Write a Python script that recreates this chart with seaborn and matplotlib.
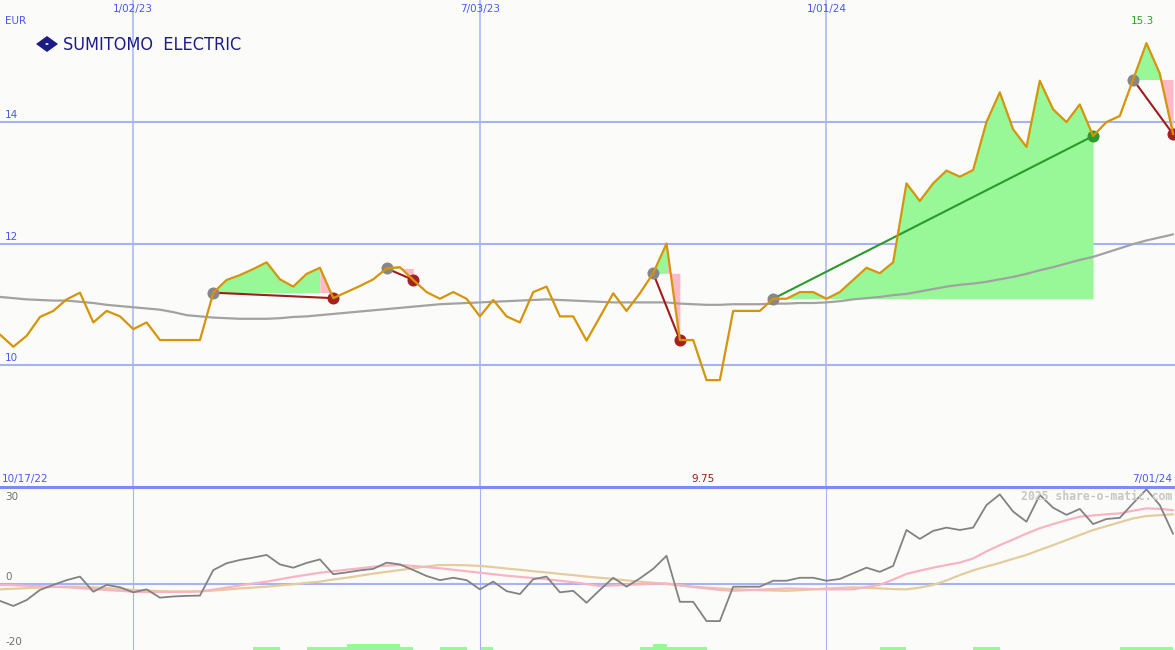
import numpy as np
import pandas as pd
import matplotlib
matplotlib.use("Agg")
import matplotlib.pyplot as plt
import matplotlib.transforms as mtransforms
from matplotlib.patches import Polygon, Circle
import seaborn as sns

# ---------------- data ----------------
start_date = "2022-10-24"

price = [10.50, 10.30, 10.48, 10.79, 10.89, 11.08, 11.19, 10.70, 10.89, 10.80,
         10.59, 10.70, 10.41, 10.41, 10.41, 10.41, 11.19, 11.40, 11.48, 11.58,
         11.69, 11.41, 11.29, 11.50, 11.60, 11.10, 11.20, 11.30, 11.41, 11.59,
         11.61, 11.40, 11.20, 11.09, 11.20, 11.09, 10.80, 11.07, 10.80, 10.70,
         11.20, 11.29, 10.80, 10.80, 10.40, 10.79, 11.18, 10.89, 11.18, 11.51,
         12.00, 10.41, 10.41, 9.75, 9.75, 10.89, 10.89, 10.89, 11.09, 11.09,
         11.20, 11.20, 11.09, 11.20, 11.40, 11.60, 11.51, 11.69, 12.99, 12.70,
         12.99, 13.20, 13.10, 13.21, 14.00, 14.49, 13.88, 13.59, 14.68, 14.21,
         14.00, 14.29, 13.77, 14.00, 14.10, 14.70, 15.30, 14.80, 13.80]

ma_long = [11.12, 11.10, 11.08, 11.07, 11.06, 11.06, 11.04, 11.02, 10.99, 10.97,
           10.95, 10.93, 10.91, 10.87, 10.82, 10.80, 10.78, 10.77, 10.76, 10.76,
           10.76, 10.77, 10.79, 10.80, 10.82, 10.84, 10.86, 10.88, 10.90, 10.92,
           10.94, 10.96, 10.98, 11.00, 11.01, 11.02, 11.03, 11.04, 11.05, 11.06,
           11.07, 11.08, 11.07, 11.06, 11.05, 11.04, 11.03, 11.03, 11.03, 11.03,
           11.03, 11.01, 11.00, 10.99, 10.99, 11.00, 11.00, 11.00, 11.01, 11.01,
           11.02, 11.02, 11.03, 11.05, 11.08, 11.10, 11.12, 11.15, 11.17, 11.21,
           11.25, 11.29, 11.32, 11.34, 11.37, 11.41, 11.45, 11.50, 11.56, 11.61,
           11.67, 11.73, 11.78, 11.85, 11.92, 11.99, 12.05, 12.10, 12.15]

momentum = [-5.7, -7.4, -5.4, -2.0, -0.3, 1.3, 2.5, -2.6, -0.3, -1.1,
            -2.8, -1.8, -4.6, -4.2, -4.0, -3.9, 4.7, 7.0, 8.1, 8.9,
            9.8, 6.6, 5.5, 7.1, 8.3, 3.3, 3.9, 4.6, 5.1, 7.2,
            6.6, 4.7, 2.7, 1.3, 2.1, 1.3, -1.8, 0.8, -2.4, -3.4,
            1.6, 2.5, -2.8, -2.3, -6.3, -2.0, 2.1, -0.9, 1.9, 5.1,
            9.5, -6.0, -6.0, -12.5, -12.5, -0.9, -0.9, -0.9, 1.1, 1.1,
            2.1, 2.1, 1.1, 1.7, 3.6, 5.5, 4.1, 6.1, 18.2, 15.2,
            17.9, 19.0, 18.2, 19.0, 26.6, 30.2, 24.4, 21.0, 30.0, 25.7,
            23.3, 25.3, 20.2, 21.9, 22.3, 27.2, 31.9, 26.6, 16.9]

signal_fast = [-0.3, -0.4, -0.6, -0.7, -0.9, -1.1, -1.4, -1.7, -2.0, -2.3,
               -2.6, -2.7, -2.7, -2.7, -2.6, -2.5, -1.9, -1.2, -0.5, 0.2,
               0.8, 1.6, 2.4, 3.1, 3.8, 4.3, 4.8, 5.3, 5.8, 6.2,
               6.4, 6.1, 5.7, 5.3, 4.8, 4.3, 3.8, 3.3, 2.8, 2.4,
               2.0, 1.6, 1.1, 0.6, 0.0, -0.7, -0.5, -0.3, -0.1, 0.1,
               0.2, -0.4, -1.0, -1.5, -2.0, -2.3, -2.1, -1.9, -1.7, -1.5,
               -1.6, -1.7, -1.8, -1.8, -1.8, -1.0, -0.3, 1.5, 3.4, 4.5,
               5.5, 6.4, 7.2, 8.6, 11.0, 13.1, 15.0, 17.0, 18.8, 20.2,
               21.5, 22.7, 23.1, 23.5, 23.8, 24.7, 25.5, 25.3, 24.9]

signal_slow = [-1.8, -1.6, -1.4, -1.2, -1.0, -0.9, -0.9, -1.1, -1.4, -1.7,
               -2.0, -2.2, -2.4, -2.5, -2.6, -2.5, -2.2, -1.9, -1.5, -1.2,
               -0.9, -0.5, -0.1, 0.4, 0.8, 1.5, 2.1, 2.8, 3.5, 4.1,
               4.7, 5.3, 5.9, 6.4, 6.4, 6.3, 6.1, 5.7, 5.2, 4.8,
               4.3, 3.9, 3.4, 3.0, 2.5, 2.1, 1.7, 1.2, 0.8, 0.4,
               0.0, -0.5, -0.9, -1.2, -1.5, -1.7, -1.9, -2.1, -2.2, -2.3,
               -2.1, -1.8, -1.5, -1.3, -1.1, -1.3, -1.5, -1.7, -1.8, -1.2,
               -0.3, 1.2, 3.0, 4.6, 5.9, 7.1, 8.5, 9.8, 11.5, 13.1,
               14.8, 16.5, 18.2, 19.5, 20.8, 22.1, 22.9, 23.2, 23.5]

volume_flag = [0] * 19 + [1, 1, 0, 0, 1, 1, 1, 2, 2, 2, 2, 1, 0, 0, 1, 1, 0, 1] + \
              [0] * 11 + [1, 2, 1, 1, 1] + [0] * 13 + [1, 1] + [0] * 5 + [1, 1] + \
              [0] * 9 + [1, 1, 1, 1, 0]

trade_entry = [16, 29, 49, 58, 85]
trade_exit = [25, 31, 51, 82, 88]

price_ticks = [10, 12, 14]
date_lines = ["2023-01-02", "2023-07-03", "2024-01-01"]
date_labels = ["1/02/23", "7/03/23", "1/01/24"]
osc_labels = [(30, "30"), (0, "0"), (-20, "-20")]

# ---------------- figure ----------------
sns.set_theme(style="white")
plt.rcParams['font.family'] = ['DejaVu Sans']

bg = '#fbfcfa'
grid_c = '#a6b2f4'
label_c = '#4a58ee'
W, H = 1175, 650

dates = pd.date_range(start_date, periods=len(price), freq='7D')
df = pd.DataFrame({'date': dates, 'price': price, 'ma': ma_long,
                   'mom': momentum, 'fast': signal_fast, 'slow': signal_slow,
                   'vol': volume_flag})

fig = plt.figure(figsize=(W / 100, H / 100), dpi=100, facecolor=bg)
ax = fig.add_axes([0, 163 / H, 1, 487 / H])
ax2 = fig.add_axes([0, 0, 1, 163 / H])

for a in (ax, ax2):
    a.set_facecolor(bg)
    for s in a.spines.values():
        s.set_visible(False)

xmin, xmax = dates[0], dates[-1] + pd.Timedelta(days=1)

# ---------- top panel ----------
for y in price_ticks:
    ax.axhline(y, color=grid_c, lw=1.5, zorder=1)
for d in date_lines:
    ax.axvline(pd.Timestamp(d), color=grid_c, lw=1.1, zorder=1)

for e, x in zip(trade_entry, trade_exit):
    pe, px = price[e], price[x]
    profit = px > pe
    end = x + 1 if profit else x
    ax.fill_between(dates[e:end], price[e:end], pe, color='#98f898', lw=0, zorder=2)
    if not profit:
        ax.fill_between(dates[x - 1:x + 1], price[x - 1:x + 1], pe,
                        color='#ffb8c8', lw=0, zorder=2)

sns.lineplot(data=df, x='date', y='ma', ax=ax, color='#a2a2a2', lw=1.6, zorder=3)

for e, x in zip(trade_entry, trade_exit):
    pe, px = price[e], price[x]
    profit = px > pe
    lc = '#2a9a2a' if profit else '#a01c1c'
    ax.plot([dates[e], dates[x]], [pe, px], color=lc, lw=1.5, zorder=3.5)
    ax.scatter([dates[e]], [pe], s=75, color='#878787', zorder=4, lw=0)
    ax.scatter([dates[x]], [px], s=75, color=('#2a9a2a' if profit else '#a52020'),
               zorder=4, lw=0)

sns.lineplot(data=df, x='date', y='price', ax=ax, color='#d6940a', lw=1.6, zorder=5)

ax.set_xlim(xmin, xmax)
ax.set_ylim(7.99, 16.01)
ax.set_xticks([]); ax.set_yticks([])
ax.set_xlabel(''); ax.set_ylabel('')

tb = mtransforms.blended_transform_factory(ax.transAxes, ax.transData)
fs = 7.5
for y in price_ticks:
    ax.text(5 / W, y + 0.03, str(y), transform=tb, ha='left', va='bottom',
            fontsize=fs, color=label_c)
ax.text(5 / W, 1 - 21 / 487, 'EUR', transform=ax.transAxes, ha='left', va='center',
        fontsize=fs, color=label_c)
tx = mtransforms.blended_transform_factory(ax.transData, ax.transAxes)
for d, lab in zip(date_lines, date_labels):
    ax.text(pd.Timestamp(d), 1 - 9 / 487, lab, transform=tx, ha='center', va='center',
            fontsize=fs, color=label_c)
ax.text(1142 / W, 1 - 21 / 487, f"{max(price):.1f}", transform=ax.transAxes,
        ha='center', va='center', fontsize=fs, color='#2e9e2e')
ax.text(2 / W, 8 / 487, '10/17/22', transform=ax.transAxes, ha='left', va='center',
        fontsize=fs, color=label_c)
ax.text(703 / W, 8 / 487, f"{min(price):.2f}", transform=ax.transAxes, ha='center',
        va='center', fontsize=fs, color='#a01818')
ax.text(1172 / W, 8 / 487, '7/01/24', transform=ax.transAxes, ha='right', va='center',
        fontsize=fs, color=label_c)

# logo
fig.text(63 / W, 1 - 44.5 / H, 'SUMITOMO  ELECTRIC', ha='left', va='center',
         fontsize=13, color='#1c1c84', family='DejaVu Sans', fontstretch='condensed')
cx, cy = 47, 44
pts = [((cx - 11) / W, 1 - cy / H), (cx / W, 1 - (cy - 8) / H),
       ((cx + 11) / W, 1 - cy / H), (cx / W, 1 - (cy + 8) / H)]
fig.add_artist(Polygon(pts, closed=True, transform=fig.transFigure,
                       facecolor='#1c1c84', edgecolor='none'))
fig.add_artist(Circle((cx / W, 1 - cy / H), 1.6 / W, transform=fig.transFigure,
                      facecolor='white', edgecolor='none'))

# ---------- bottom panel ----------
ylo, yhi = -22.24, 32.69
ax2.bar(dates, [v * 1.05 for v in volume_flag], width=7, align='edge', bottom=ylo,
        color='#98f898', lw=0, zorder=1)
ax2.axhline(0, color=grid_c, lw=1.5, zorder=1)
for d in date_lines:
    ax2.axvline(pd.Timestamp(d), color=grid_c, lw=0.8, zorder=1)
sns.lineplot(data=df, x='date', y='slow', ax=ax2, color='#e4cc9e', lw=1.6, zorder=2)
sns.lineplot(data=df, x='date', y='fast', ax=ax2, color='#f8b4c4', lw=1.6, zorder=2.5)
sns.lineplot(data=df, x='date', y='mom', ax=ax2, color='#828282', lw=1.3, zorder=3)
ax2.set_xlim(xmin, xmax)
ax2.set_ylim(ylo, yhi)
ax2.set_xticks([]); ax2.set_yticks([])
ax2.set_xlabel(''); ax2.set_ylabel('')
ax2.spines['top'].set_visible(True)
ax2.spines['top'].set_color('#7c8cf0')
ax2.spines['top'].set_linewidth(2.2)

tb2 = mtransforms.blended_transform_factory(ax2.transAxes, ax2.transData)
label_offsets = {30: -0.6, 0: 0.7, -20: 0.6}
for v, lab in osc_labels:
    va = 'bottom' if v == 0 else 'center'
    ax2.text(5 / W, v + label_offsets[v], lab, transform=tb2, ha='left', va=va,
             fontsize=fs, color='#707070')
ax2.text(1172 / W, (650 - 497) / 163, '2025 share-o-matic.com', transform=ax2.transAxes,
         ha='right', va='center', fontsize=8.3, color='#c6c6c6',
         family='DejaVu Sans Mono', weight='bold')

fig.savefig('out.png', dpi=100, facecolor=bg)
